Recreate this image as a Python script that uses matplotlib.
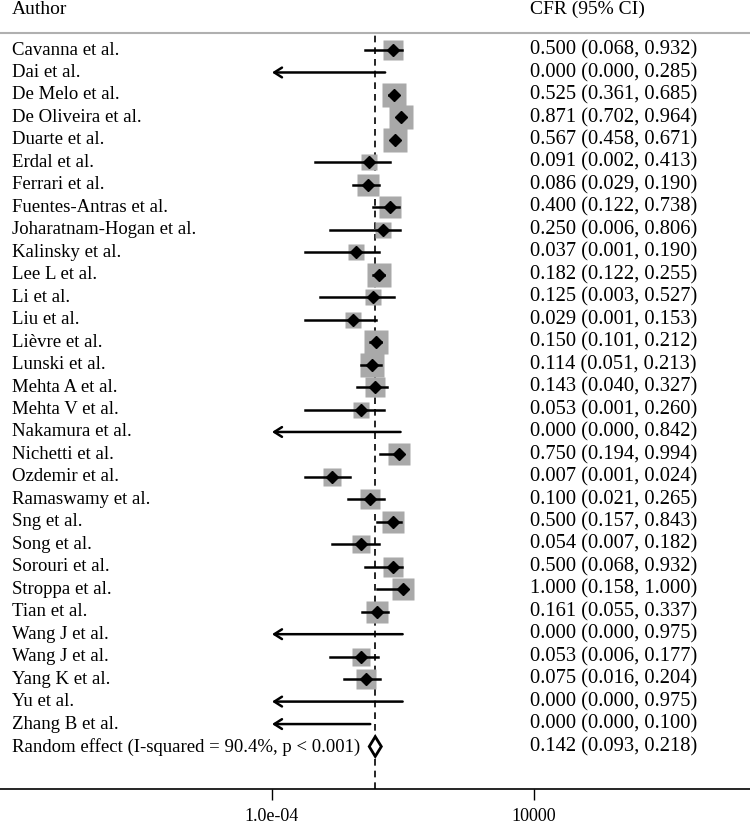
import numpy as np
import matplotlib.pyplot as plt
import matplotlib.transforms as mtrans
from matplotlib.patches import Polygon

plt.rcParams['font.family'] = ['Liberation Serif', 'DejaVu Serif']

authors = ["Cavanna et al.", "Dai et al.", "De Melo et al.", "De Oliveira et al.",
           "Duarte et al.", "Erdal et al.", "Ferrari et al.", "Fuentes-Antras et al.",
           "Joharatnam-Hogan et al.", "Kalinsky et al.", "Lee L et al.", "Li et al.",
           "Liu et al.", "Lièvre et al.", "Lunski et al.", "Mehta A et al.",
           "Mehta V et al.", "Nakamura et al.", "Nichetti et al.", "Ozdemir et al.",
           "Ramaswamy et al.", "Sng et al.", "Song et al.", "Sorouri et al.",
           "Stroppa et al.", "Tian et al.", "Wang J et al.", "Wang J et al.",
           "Yang K et al.", "Yu et al.", "Zhang B et al."]
cfr = [0.500, 0.000, 0.525, 0.871, 0.567, 0.091, 0.086, 0.400, 0.250, 0.037,
       0.182, 0.125, 0.029, 0.150, 0.114, 0.143, 0.053, 0.000, 0.750, 0.007,
       0.100, 0.500, 0.054, 0.500, 1.000, 0.161, 0.000, 0.053, 0.075, 0.000, 0.000]
lower = [0.068, 0.000, 0.361, 0.702, 0.458, 0.002, 0.029, 0.122, 0.006, 0.001,
         0.122, 0.003, 0.001, 0.101, 0.051, 0.040, 0.001, 0.000, 0.194, 0.001,
         0.021, 0.157, 0.007, 0.068, 0.158, 0.055, 0.000, 0.006, 0.016, 0.000, 0.000]
upper = [0.932, 0.285, 0.685, 0.964, 0.671, 0.413, 0.190, 0.738, 0.806, 0.190,
         0.255, 0.527, 0.153, 0.212, 0.213, 0.327, 0.260, 0.842, 0.994, 0.024,
         0.265, 0.843, 0.182, 0.932, 1.000, 0.337, 0.975, 0.177, 0.204, 0.975, 0.100]
weight = [4.0, 0, 5.8, 5.8, 5.5, 2.3, 4.8, 4.8, 2.3, 2.3,
          5.3, 2.3, 2.3, 5.8, 5.3, 4.4, 2.3, 0, 4.8, 3.6,
          4.0, 4.8, 3.3, 4.0, 4.8, 4.8, 0, 3.3, 4.0, 0, 0]

pooled = (0.142, 0.093, 0.218)
pooled_label = "Random effect (I-squared = 90.4%, p < 0.001)"

fig = plt.figure(figsize=(7.5, 8.24), dpi=100)
ax = fig.add_axes([0, 35 / 824, 1, 756 / 824])

n = len(authors)
ax.set_xscale('log')
ax.set_xlim(10 ** -12.305, 10 ** 10.595)
ax.set_ylim(32.89, -0.757)

ax.axvline(pooled[0], color='black', lw=1.2, ls=(0, (4, 3)), zorder=1)

for i in range(n):
    if weight[i] > 0:
        side = 10 * np.sqrt(weight[i]) / 1.389
        ax.plot(cfr[i], i, marker='s', ms=side, color='#a9a9a9', mec='none', zorder=2)
    if lower[i] > 0:
        ax.plot([lower[i], upper[i]], [i, i], color='black', lw=1.8, zorder=3)
    else:
        ax.annotate('', xy=(1e-4, i), xytext=(upper[i], i),
                    arrowprops=dict(arrowstyle='->,head_length=0.55,head_width=0.35',
                                    color='black', lw=1.8, shrinkA=0, shrinkB=0),
                    zorder=3)
    if cfr[i] > 0:
        ax.plot(cfr[i], i, marker='D', ms=6, color='black', zorder=4)

yp = n
diamond = Polygon([(pooled[1], yp), (pooled[0], yp - 0.44), (pooled[2], yp),
                   (pooled[0], yp + 0.44)], closed=True, facecolor='white',
                  edgecolor='black', lw=2, zorder=4)
ax.add_patch(diamond)

# text columns
tr = mtrans.blended_transform_factory(fig.transFigure, ax.transData)
labels = authors + [pooled_label]
vals = list(zip(cfr, lower, upper)) + [pooled]
for i, (lab, v) in enumerate(zip(labels, vals)):
    ax.text(12 / 750, i, lab, transform=tr, ha='left', va='center', fontsize=13.5)
    ax.text(530 / 750, i, "%.3f (%.3f, %.3f)" % v, transform=tr,
            ha='left', va='center', fontsize=14.8)

fig.text(12 / 750, 1 - 9 / 824, "Author", ha='left', va='center', fontsize=14)
fig.text(530 / 750, 1 - 9 / 824, "CFR (95% CI)", ha='left', va='center', fontsize=14)

for s in ['left', 'right']:
    ax.spines[s].set_visible(False)
ax.spines['top'].set_color('#b0b0b0')
ax.spines['top'].set_linewidth(1.5)
ax.spines['bottom'].set_linewidth(1.2)

ax.set_yticks([])
ax.set_xticks([1e-4, 1e4])
ax.set_xticklabels(["1.0e-04", "10000"])
ax.minorticks_off()
ax.tick_params(axis='x', length=8, width=1, pad=6, labelsize=13)

fig.savefig("out.png", dpi=100)
